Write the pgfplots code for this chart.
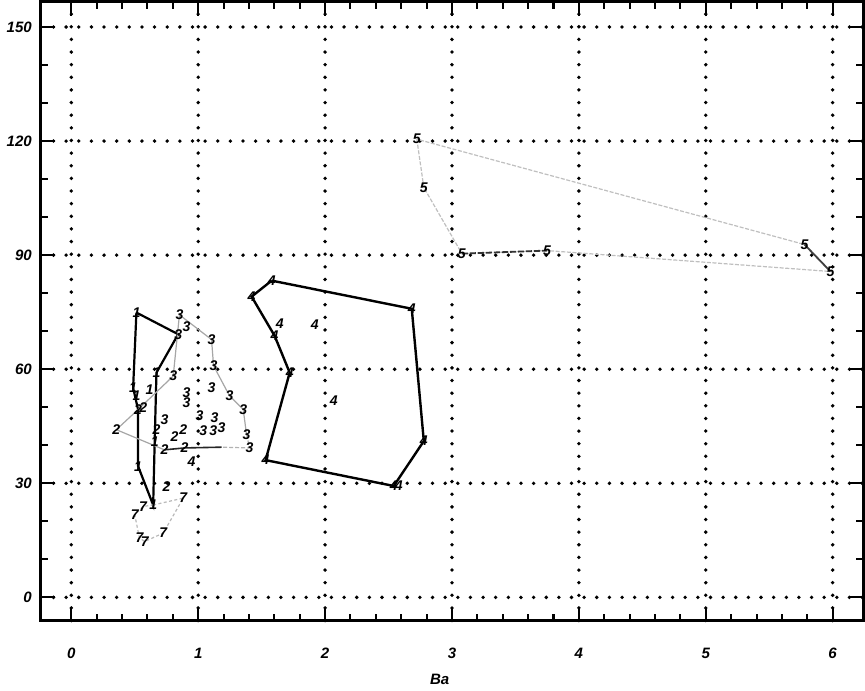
\documentclass[border=0pt]{standalone}
\usepackage{fontspec}
\setmainfont{Liberation Sans}
\usepackage{pgfplots}
\pgfplotsset{compat=1.18}
\pgfplotsset{mk/.style={only marks, mark=text, text mark as node=true, text mark={\fontsize{7}{7}\selectfont\bfseries\itshape #1}, text mark style={inner sep=0pt}}}
\begin{document}
\begin{tikzpicture}
\begin{axis}[
 scale only axis, width=410pt, height=308.5pt,
 xmin=-0.24, xmax=6.24, ymin=-6.1, ymax=156.6,
 xtick={0,...,6}, ytick={0,30,...,150},
 minor x tick num=4, minor y tick num=2,
 tick align=inside, major tick length=7pt, minor tick length=3.5pt,
 every tick/.style={black, line width=1pt},
 axis line style={line width=1.4pt},
 grid=major,
 major grid style={black, line width=1.9pt, dash pattern=on 0pt off 6.3pt, line cap=round},
 tick label style={font=\fontsize{7.5}{8}\selectfont\bfseries\itshape},
 /pgf/number format/assume math mode=true,
 xticklabel style={yshift=-10pt},
 yticklabel style={xshift=-1pt},
 xlabel={Ba},
 xlabel style={font=\fontsize{7.5}{8}\selectfont\bfseries\itshape, at={(axis description cs:0.485,0)}, anchor=north, yshift=-23pt},
 clip=false,
]
% series 5
\addplot[gray!50, line width=0.6pt, dash pattern=on 2pt off 0.8pt] coordinates {(2.723,120.5) (2.778,107.8) (3.078,90.4) (3.749,91.2) (5.983,85.7) (5.778,92.8) (2.723,120.5)};
\addplot[black!80, line width=0.9pt, dash pattern=on 3pt off 1pt] coordinates {(3.078,90.4) (3.749,91.2)};
\addplot[black!75, line width=0.9pt] coordinates {(5.778,92.8) (5.983,85.7)};
\addplot[mk=5] coordinates {(2.723,120.5) (2.778,107.8) (3.078,90.4) (3.749,91.2) (5.983,85.7) (5.778,92.8)};
% series 4
\addplot[black, line width=1.2pt] coordinates {(1.579,83.3) (1.421,79.1) (1.602,68.8) (1.721,59.1) (1.531,36.1) (2.541,29.3) (2.778,41.1) (2.683,75.9) (1.579,83.3)};
\addplot[mk=4] coordinates {(1.579,83.3) (1.421,79.1) (1.602,68.8) (1.721,59.1) (1.531,36.1) (2.541,29.3) (2.581,29.3) (2.778,41.1) (2.683,75.9) (1.642,72.0) (1.918,71.7) (2.068,51.7) (0.947,35.8)};
% series 1
\addplot[black, line width=1.1pt] coordinates {(0.513,74.9) (0.842,69.2) (0.671,59.1) (0.657,41.0) (0.645,24.3) (0.526,34.5) (0.526,49.4) (0.487,55.1) (0.513,74.9)};
\addplot[mk=1] coordinates {(0.513,74.9) (0.671,59.1) (0.657,41.0) (0.645,24.3) (0.526,34.5) (0.487,55.1) (0.616,54.6) (0.513,53.0)};
% series 3 / 2
\addplot[gray!70, line width=0.6pt] coordinates {(0.526,49.4) (0.803,58.2) (0.852,74.3) (1.105,67.8) (1.121,60.9) (1.247,53.0) (1.355,49.4) (1.381,42.8)};
\addplot[gray!60, line width=0.6pt, dash pattern=on 2pt off 1pt] coordinates {(1.381,42.8) (1.405,39.3) (1.184,39.5)};
\addplot[black!85, line width=0.8pt] coordinates {(1.184,39.5) (0.892,39.3) (0.734,38.8)};
\addplot[gray!70, line width=0.6pt] coordinates {(0.734,38.8) (0.355,44.1) (0.526,49.4)};
\addplot[mk=3] coordinates {(0.852,74.3) (1.105,67.8) (1.121,60.9) (1.247,53.0) (1.355,49.4) (1.381,42.8) (0.803,58.2) (0.908,71.2) (1.105,55.1) (0.908,53.8) (0.908,51.1) (0.734,46.7) (1.010,47.7) (1.129,47.2) (1.039,43.8) (1.118,43.8) (1.184,44.6) (1.405,39.3) (0.842,69.2)};
\addplot[mk=2] coordinates {(0.526,49.4) (0.568,49.8) (0.671,44.1) (0.813,42.4) (0.882,44.1) (0.734,38.8) (0.892,39.3) (0.750,29.2) (0.355,44.1)};
% series 7
\addplot[gray!55, line width=0.6pt, dash pattern=on 1.5pt off 1.2pt] coordinates {(0.645,24.3) (0.882,26.1) (0.724,16.9) (0.579,14.7) (0.537,15.6) (0.5,21.7) (0.566,23.9) (0.645,24.3)};
\addplot[mk=7] coordinates {(0.882,26.1) (0.724,16.9) (0.579,14.7) (0.537,15.6) (0.5,21.7) (0.566,23.9)};
\end{axis}
\end{tikzpicture}
\end{document}
